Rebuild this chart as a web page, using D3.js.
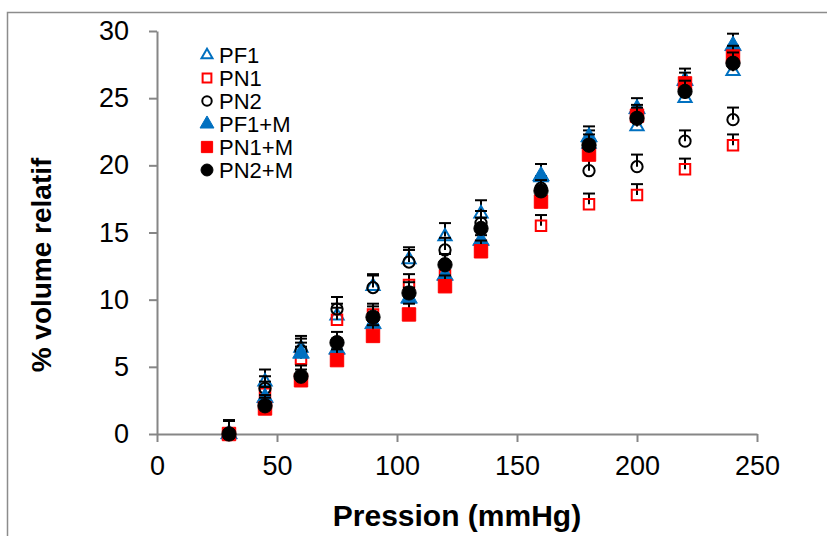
<!DOCTYPE html>
<html><head><meta charset="utf-8">
<script src="https://cdn.jsdelivr.net/npm/d3@7"></script>
<style>body{margin:0;background:#fff}svg{display:block}</style>
</head><body><svg id="c" width="827" height="536"></svg>
<script>
const pressures = [30,45,60,75,90,105,120,135,160,180,200,220,240];
const seriesNames = ["PF1","PN1","PN2","PF1+M","PN1+M","PN2+M"];
const PF1  = [0, 3.9, 6.4, 8.8, 11.0, 13.0, 14.7, 16.4, 19.1, 21.6, 22.9, 25.0, 27.0];
const PN1  = [0, 3.0, 5.6, 8.5, 8.9, 11.1, 11.8, 14.0, 15.5, 17.1, 17.8, 19.7, 21.5];
const PN2  = [0, 3.4, 6.2, 9.3, 10.9, 12.8, 13.7, 15.7, 18.3, 19.6, 19.9, 21.8, 23.4];
const PF1M = [0, 2.7, 6.0, 6.3, 8.2, 10.1, 11.8, 14.4, 19.2, 22.1, 24.2, 26.3, 28.9];
const PN1M = [0, 1.9, 4.0, 5.5, 7.3, 8.9, 11.0, 13.6, 17.3, 20.8, 23.7, 26.1, 28.1];
const PN2M = [0, 2.1, 4.3, 6.8, 8.7, 10.5, 12.6, 15.3, 18.1, 21.5, 23.5, 25.5, 27.6];
const PF1err  = [1.0, 0.9, 0.9, 0.9, 0.9, 0.9, 1.0, 1.0, 1.0, 1.0, 1.0, 1.0, 0.9];
const PN1err  = [1.0, 0.9, 0.9, 0.9, 0.8, 0.8, 0.8, 0.8, 0.8, 0.8, 0.8, 0.8, 0.8];
const PN2err  = [1.0, 0.9, 0.9, 0.9, 0.9, 0.9, 0.9, 0.9, 0.9, 0.9, 0.9, 0.8, 0.9];
const PF1Merr = [1.0, 0.8, 0.8, 0.8, 0.8, 0.8, 0.9, 0.9, 0.9, 0.8, 0.8, 0.9, 0.9];
const PN1Merr = [1.0, 0.8, 0.8, 0.8, 0.8, 0.8, 0.8, 0.8, 0.8, 0.8, 0.8, 0.8, 0.8];
const PN2Merr = [1.0, 0.8, 0.8, 0.8, 0.8, 0.8, 0.8, 0.8, 0.8, 0.8, 0.8, 0.8, 0.8];
const xTicks = [0,50,100,150,200,250];
const yTicks = [0,5,10,15,20,25,30];

const values = [PF1,PN1,PN2,PF1M,PN1M,PN2M];
const errs = [PF1err,PN1err,PN2err,PF1Merr,PN1Merr,PN2Merr];
const styles = [
  {shape:d3.symbolTriangle, size:75, fill:"none", stroke:"#0070C0"},
  {shape:d3.symbolSquare, size:110, fill:"none", stroke:"#FF0000"},
  {shape:d3.symbolCircle, size:100, fill:"none", stroke:"#000000"},
  {shape:d3.symbolTriangle, size:120, fill:"#0070C0", stroke:"#0070C0"},
  {shape:d3.symbolSquare, size:180, fill:"#FF0000", stroke:"#FF0000"},
  {shape:d3.symbolCircle, size:160, fill:"#000000", stroke:"#000000"}
];

const svg = d3.select("#c");
const font = "'Liberation Sans', Arial, sans-serif";
svg.append("rect").attr("x",7.5).attr("y",12.5).attr("width",900).attr("height",600)
  .attr("fill","none").attr("stroke","#8c8c8c").attr("stroke-width",1.5);

const x = d3.scaleLinear().domain([0,250]).range([157,757]);
const y = d3.scaleLinear().domain([0,30]).range([434,31]);
const axisCol = "#868686";

const xa = svg.append("g").attr("transform","translate(0,434)")
  .call(d3.axisBottom(x).tickValues(xTicks).tickSize(8).tickPadding(14).tickSizeOuter(0));
const ya = svg.append("g").attr("transform","translate(157,0)")
  .call(d3.axisLeft(y).tickValues(yTicks).tickSize(8).tickPadding(20).tickSizeOuter(0));
[xa,ya].forEach(g=>{
  g.select(".domain").attr("stroke",axisCol).attr("stroke-width",2);
  g.selectAll(".tick line").attr("stroke",axisCol).attr("stroke-width",2);
  g.selectAll(".tick text").attr("fill","#000").style("font-family",font).style("font-size","27px");
});

const plot = svg.append("g");
values.forEach((vals,si)=>{
  const st = styles[si];
  const g = plot.append("g");
  vals.forEach((v,i)=>{
    const cx = x(pressures[i]), e = errs[si][i];
    g.append("line").attr("x1",cx).attr("x2",cx).attr("y1",y(v)).attr("y2",y(v+e))
      .attr("stroke","#000").attr("stroke-width",2);
    g.append("line").attr("x1",cx-6).attr("x2",cx+6).attr("y1",y(v+e)).attr("y2",y(v+e))
      .attr("stroke","#000").attr("stroke-width",2);
  });
  g.selectAll("path.m").data(vals).join("path")
    .attr("transform",(v,i)=>`translate(${x(pressures[i])},${y(v)})`)
    .attr("d",d3.symbol().type(st.shape).size(st.size))
    .attr("fill",st.fill).attr("stroke",st.stroke).attr("stroke-width",st.fill==="none"?2:1);
});

const leg = svg.append("g");
seriesNames.forEach((n,i)=>{
  const ly = 55 + i*23;
  const st = styles[i];
  leg.append("path").attr("transform",`translate(207,${ly})`)
    .attr("d",d3.symbol().type(st.shape).size(st.size*0.7))
    .attr("fill",st.fill).attr("stroke",st.stroke).attr("stroke-width",st.fill==="none"?2:1);
  leg.append("text").attr("x",219).attr("y",ly).attr("dy","0.36em")
    .style("font-family",font).style("font-size","22px").text(n);
});

svg.append("text").attr("x",457).attr("y",526).attr("text-anchor","middle")
  .style("font-family",font).style("font-size","30px").style("font-weight","bold")
  .text("Pression (mmHg)");
svg.append("text").attr("transform","translate(51,265) rotate(-90)").attr("text-anchor","middle")
  .style("font-family",font).style("font-size","28px").style("font-weight","bold")
  .text("% volume relatif");
</script></body></html>
